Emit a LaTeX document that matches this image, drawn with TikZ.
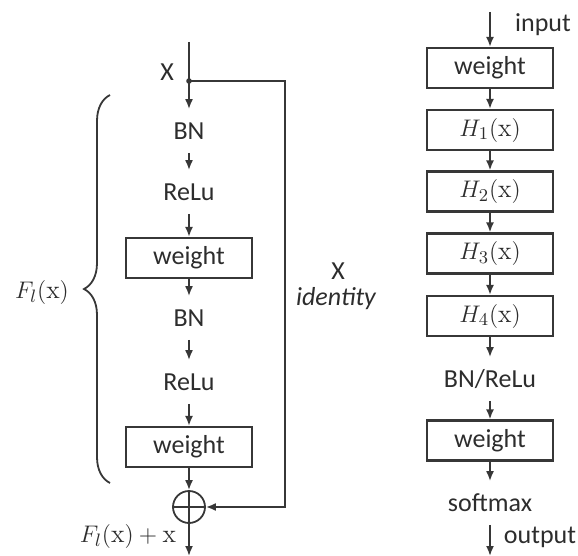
\documentclass[tikz,border=0pt]{standalone}
\usepackage{fontspec}
\setsansfont{Carlito}
\usetikzlibrary{arrows.meta,positioning,decorations.pathreplacing}
\definecolor{linegray}{RGB}{55,55,55}
\definecolor{textgray}{RGB}{45,45,45}
\newcommand{\labelsize}{\fontsize{13}{15}\selectfont}

\begin{document}
\begin{tikzpicture}[
    x=0.5pt, y=-0.5pt,
    line width=0.9pt, draw=linegray,
    block/.style={rectangle, draw=linegray, line width=1.1pt, minimum width=63pt, minimum height=20pt, inner sep=0pt, font=\sffamily\labelsize, text=textgray},
    layer/.style={rectangle, minimum height=21pt, inner sep=0pt, font=\sffamily\labelsize, text=textgray},
    note/.style={font=\labelsize, text=textgray, inner sep=0pt},
    sumnode/.style={circle, draw=linegray, line width=0.9pt, minimum size=16pt, inner sep=0pt},
    arrow/.style={-{Latex[length=5pt,width=4pt]}, draw=linegray, line width=0.9pt}
]
\useasboundingbox (0,0) rectangle (578,556);

% Residual block
\coordinate (xin) at (189,42);
\coordinate (split) at (189,81);
\node[layer] (bn1) at (189,131) {BN};
\node[layer] (relu1) at (189,192) {ReLu};
\node[block] (weight1) at (189,258) {weight};
\node[layer] (bn2) at (189,318) {BN};
\node[layer] (relu2) at (189,382) {ReLu};
\node[block] (weight2) at (189,447) {weight};
\node[sumnode] (sum) at (189,507) {};
\coordinate (xout) at (189,556);
\coordinate (skipcorner) at (285,81);

\draw (sum.north) -- (sum.south);
\draw (sum.west) -- (sum.east);
\fill[linegray] (split) circle (2.8);

% Arrows
\draw (xin) -- (split);
\draw[arrow] (split) -- (bn1);
\draw[arrow] (bn1) -- (relu1);
\draw[arrow] (relu1) -- (weight1);
\draw[arrow] (weight1) -- (bn2);
\draw[arrow] (bn2) -- (relu2);
\draw[arrow] (relu2) -- (weight2);
\draw[arrow] (weight2) -- (sum);
\draw[arrow] (sum) -- (xout);

% Identity shortcut
\draw[arrow] (split) -- (skipcorner) |- (sum.east);

% Labels
\node[note, font=\sffamily\labelsize] (xlabel) at (167,72) {X};
\node[note, font=\sffamily\labelsize] (idx) at (338,271) {X};
\node[note, font=\sffamily\itshape\labelsize] (idname) at (336,299) {identity};
\node[note] (sumlabel) at (128,536) {$F_l(\mathrm{x})+\mathrm{x}$};

% Brace
\coordinate (bracebot) at (110,483);
\coordinate (bracetop) at (110,95);
\draw[decorate, decoration={brace, amplitude=13pt}] (bracebot) -- (bracetop);
\node[note] (flabel) at (42,292) {$F_l(\mathrm{x})$};

% Dense block
\coordinate (netin) at (490,12);
\node[block] (w1) at (490,68) {weight};
\node[block] (h1) at (490,130) {$H_1(\mathrm{x})$};
\node[block] (h2) at (490,191.5) {$H_2(\mathrm{x})$};
\node[block] (h3) at (490,253.5) {$H_3(\mathrm{x})$};
\node[block] (h4) at (490,316) {$H_4(\mathrm{x})$};
\node[layer] (bnrelu) at (490,379) {BN/ReLu};
\node[block] (w2) at (490,440.5) {weight};
\node[layer] (softmax) at (490,503) {softmax};
\coordinate (netout) at (490,556);

\draw[arrow] (netin) -- (w1);
\draw[arrow] (w1) -- (h1);
\draw[arrow] (h1) -- (h2);
\draw[arrow] (h2) -- (h3);
\draw[arrow] (h3) -- (h4);
\draw[arrow] (h4) -- (bnrelu);
\draw[arrow] (bnrelu) -- (w2);
\draw[arrow] (w2) -- (softmax);
\draw[arrow] (softmax) -- (netout);

\node[note, font=\sffamily\labelsize] (inlabel) at (543,25) {input};
\node[note, font=\sffamily\labelsize] (outlabel) at (540,537) {output};

\end{tikzpicture}
\end{document}
